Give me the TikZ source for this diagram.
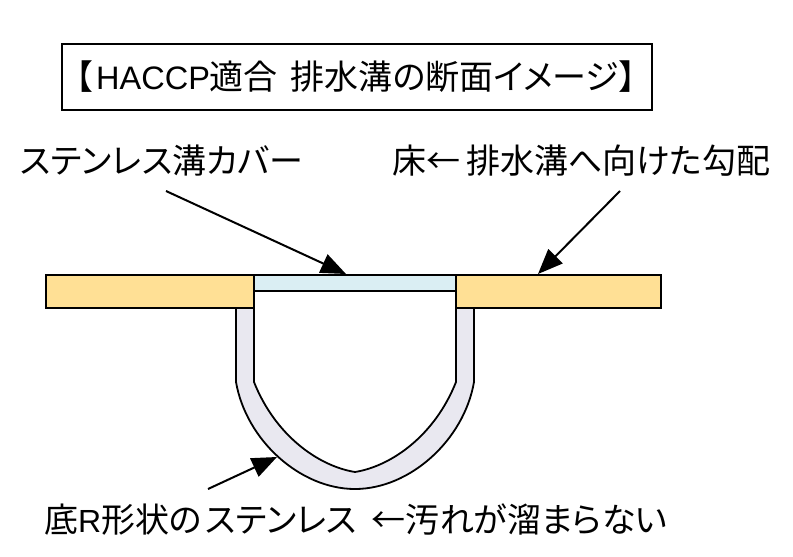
\documentclass[tikz,border=0pt]{standalone}
\usepackage{fontspec}
\setmainfont{Liberation Sans}
\newfontfamily\jp[RawFeature=+palt]{Noto Sans CJK JP}
\usetikzlibrary{arrows.meta}
\definecolor{floorc}{HTML}{FFE095}
\definecolor{coverc}{HTML}{DAEEF3}
\definecolor{steelc}{HTML}{E9E8F0}
\tikzset{
  x=1pt,y=-1pt,
  lab/.style={inner sep=0pt,font=\fontsize{34}{38}\selectfont\jp,anchor=west},
  part/.style={draw=black,line width=2pt,line join=miter,outer sep=0pt},
  arr/.style={draw=black,line width=2pt,-{Triangle[length=25pt,width=20pt]},shorten >=0pt}
}
\begin{document}
\begin{tikzpicture}
\useasboundingbox (0,0) rectangle (793,557);
% channel
\draw[part,fill=steelc,line width=1.8pt]
  (236,308) -- (236,382) .. controls (246,440) and (300,489) .. (355,489)
  .. controls (410,489) and (464,440) .. (474,382) -- (474,308)
  -- (456,308) -- (456,382) .. controls (435,435) and (392,466) .. (355,472)
  .. controls (318,466) and (275,435) .. (254,382) -- (254,308) -- cycle;
% floor
\node[part,fill=floorc,minimum width=208pt,minimum height=33pt,inner sep=0pt,anchor=north west] (fl) at (46,275) {};
\node[part,fill=floorc,minimum width=205pt,minimum height=33pt,inner sep=0pt,anchor=north west] (fr) at (456,275) {};
\node[part,fill=coverc,minimum width=202pt,minimum height=16pt,inner sep=0pt,anchor=north west] (cv) at (254,275) {};
% title
\node[draw=black,line width=2pt,outer sep=0pt,minimum width=590pt,minimum height=66pt,inner sep=0pt,anchor=north west] (tb) at (62,44) {};
\node[lab] (title) at (75,77) {【\hspace{4pt}{\fontsize{32.5}{36}\selectfont\rmfamily HACCP}適合\hspace{5pt} 排水溝の断面イメージ】};
% labels
\node[lab] (l1) at (20,161) {ステンレス溝カバー};
\node[lab] (l2) at (392,161) {床←\hspace{6pt}排水溝へ向けた勾配};
\node[lab] (l3) at (44,520) {底{\fontsize{32}{36}\selectfont\rmfamily R}形状の\hspace{3pt}ステンレス\hspace{7pt} ←汚れが溜まらない};
% arrows
\coordinate (a1s) at (166,191); \coordinate (a1e) at (346,274);
\coordinate (a2s) at (620,191); \coordinate (a2e) at (538,274);
\coordinate (a3s) at (208,489); \coordinate (a3e) at (277,457);
\draw[arr] (a1s) -- (a1e);
\draw[arr] (a2s) -- (a2e);
\draw[arr] (a3s) -- (a3e);
\end{tikzpicture}
\end{document}
